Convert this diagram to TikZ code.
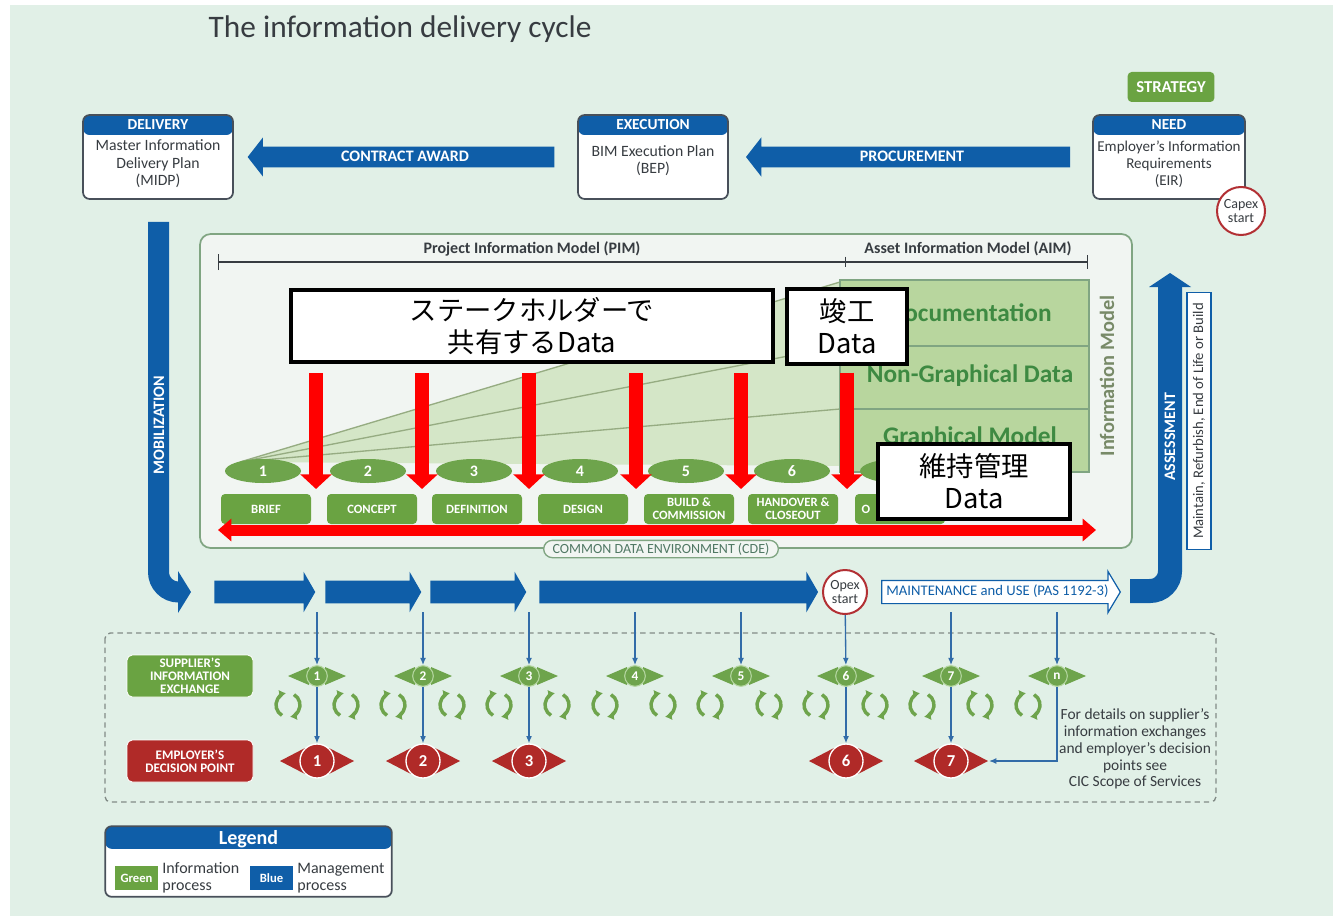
\documentclass[tikz,border=0pt]{standalone}
\usepackage{fontspec}
\setmainfont{Carlito}
\newfontfamily\jpfont{Noto Sans CJK JP}
\usepackage{tikz}
\usetikzlibrary{shapes.misc, shapes.geometric, shapes.arrows, positioning}
\usetikzlibrary{arrows.meta}
\tikzset{>={Latex[width=2mm,length=2mm]}}

\definecolor{bgmint}{RGB}{225,240,231}
\definecolor{bimblue}{RGB}{15,94,168}
\definecolor{bimgreen}{RGB}{106,163,66}
\definecolor{leafgreen}{RGB}{110,164,76}
\definecolor{aimgreen}{RGB}{184,214,158}
\definecolor{wedgegreen}{RGB}{212,230,199}
\definecolor{wedgeline}{RGB}{150,172,130}
\definecolor{modelgreen}{RGB}{62,138,66}
\definecolor{decred}{RGB}{176,42,40}
\definecolor{panelfill}{RGB}{241,245,242}
\definecolor{panelline}{RGB}{128,165,130}
\definecolor{boxline}{RGB}{72,80,90}
\definecolor{opexred}{RGB}{178,48,52}
\definecolor{textgray}{RGB}{55,60,65}
\definecolor{thinblue}{RGB}{50,108,168}
\definecolor{dashgray}{RGB}{130,140,135}
\definecolor{cdetext}{RGB}{80,120,100}
\definecolor{ringgreen}{RGB}{180,214,160}

\begin{document}
\begin{tikzpicture}[x=0.75pt, y=-0.75pt,
    topbox/.style={rounded corners=5pt, draw=boxline, line width=1.3pt, fill=white, minimum width=112.5pt, minimum height=63pt, path picture={\fill[bimblue] (path picture bounding box.north west) rectangle ([yshift=-#1]path picture bounding box.north east);}},
    topbox/.default=15pt,
    headtext/.style={font=\fontsize{11.5}{13}\selectfont\bfseries, text=white, inner sep=1.5pt},
    bodytext/.style={font=\fontsize{11.8}{13.2}\selectfont, text=textgray, align=center, inner sep=1pt},
    bigarrow/.style={single arrow, fill=bimblue, shape border rotate=180, text height=7pt, text depth=0pt, inner xsep=2pt, inner ysep=4pt, single arrow head extend=7pt, single arrow tip angle=104, font=\fontsize{12}{13}\selectfont\bfseries, text=white},
    steparrow/.style={single arrow, fill=bimblue, text height=0pt, text depth=0pt, inner xsep=0pt, inner ysep=8.25pt, single arrow head extend=6.75pt, single arrow tip angle=120},
    sidetext/.style={font=\fontsize{12}{13}\selectfont\bfseries, text=white, rotate=90},
    stagebox/.style={fill=bimgreen, rounded corners=3pt, minimum width=67.5pt, minimum height=22.5pt, inner sep=1pt, align=center, font=\fontsize{9.5}{9.6}\selectfont\bfseries, text=white},
    leaf/.style={ellipse, fill=leafgreen, minimum width=57pt, minimum height=18pt, inner sep=0pt, font=\fontsize{12}{13}\selectfont\bfseries, text=white},
    modeltext/.style={font=\fontsize{19}{21}\selectfont\bfseries, text=modelgreen},
    databox/.style={draw=black, line width=3pt, fill=white, align=center, inner sep=2pt, font=\fontsize{20.5}{24}\selectfont\jpfont},
    redarrow/.style={draw=red, line width=10.5pt, -{Triangle[width=23pt,length=11pt]}},
    cdearrow/.style={draw=red, line width=8.25pt, {Triangle[width=16.5pt,length=10pt]}-{Triangle[width=16.5pt,length=10pt]}},
    infonode/.style={circle, fill=leafgreen, draw=ringgreen, line width=0.8pt, minimum size=15.5pt, inner sep=0pt, font=\fontsize{10}{11}\selectfont\bfseries, text=white},
    decnode/.style={circle, fill=decred, draw=white, line width=1pt, minimum size=25.5pt, inner sep=0pt, font=\fontsize{12.5}{14}\selectfont\bfseries, text=white},
    thinarrow/.style={draw=thinblue, line width=1pt, -{Latex[width=4.5pt,length=5.5pt]}},
    cyclearrow/.style={draw=leafgreen, line width=2.6pt, -{Latex[width=7pt,length=5pt]}},
    tagbox/.style={rounded corners=4pt, draw=white, line width=0.6pt, minimum width=94.5pt, minimum height=31.5pt, inner sep=1pt, align=center, font=\fontsize{9.8}{9.6}\selectfont\bfseries, text=white},
    keybox/.style={minimum width=32pt, minimum height=18pt, inner sep=1pt, font=\fontsize{9.5}{10}\selectfont\bfseries, text=white},
    keytext/.style={align=left, inner sep=1pt, font=\fontsize{12}{12.8}\selectfont, text=textgray},
    circletext/.style={circle, draw=opexred, line width=1.5pt, fill=white, inner sep=0pt, align=center, font=\fontsize{10.5}{11}\selectfont, text=textgray}]

    %Background
    \fill[white] (0,0) rectangle (1333,916);
    \fill[bgmint] (10,5) rectangle (1333,916);
    \useasboundingbox (0,0) rectangle (1333,916);
    \node[anchor=west, font=\fontsize{23.5}{27}\selectfont, text=textgray] (title) at (204,29) {The information delivery cycle};

    %Top row
    \node[topbox] (delivery) at (158,157) {};
    \node[headtext, below=2pt of delivery.north] (deliveryhead) {DELIVERY};
    \node[bodytext, below=5pt of deliveryhead] (deliverybody) {Master Information\\Delivery Plan\\(MIDP)};
    \node[topbox] (execution) at (653,157) {};
    \node[headtext, below=2pt of execution.north] (executionhead) {EXECUTION};
    \node[bodytext, below=9pt of executionhead] (executionbody) {BIM Execution Plan\\(BEP)};
    \node[topbox, minimum width=114pt] (need) at (1169,157) {};
    \node[headtext, below=2pt of need.north] (needhead) {NEED};
    \node[bodytext, below=6pt of needhead, font=\fontsize{11.3}{12.8}\selectfont] (needbody) {Employer's Information\\Requirements\\(EIR)};
    \node[fill=bimgreen, rounded corners=3pt, minimum width=65pt, minimum height=22.5pt, font=\fontsize{12.5}{13}\selectfont\bfseries, text=white] (strategy) at (1171,87) {STRATEGY};
    \node[circletext, minimum size=36pt] (capex) at (1241,211) {Capex\\start};
    \node[bigarrow, minimum height=230pt] (contract) at (405,157) {CONTRACT AWARD};
    \node[bigarrow, minimum height=243pt] (procurement) at (912,157) {PROCUREMENT};

    %Side arrows
    \draw[bimblue, line width=15.75pt] (158.5,222) -- (158.5,572) arc[start angle=180, end angle=270, radius=15pt] -- (180,592);
    \fill[bimblue] (178,571) -- (191,592) -- (178,613) -- cycle;
    \node[sidetext] (mobilization) at (159,425) {MOBILIZATION};
    \draw[bimblue, line width=18pt] (1130,591) -- (1150,591) arc[start angle=-90, end angle=0, radius=15pt] -- (1170,286);
    \fill[bimblue] (1149,287) -- (1170,273) -- (1191,287) -- cycle;
    \node[sidetext] (assessment) at (1170,437) {ASSESSMENT};
    \node[draw=bimblue, line width=0.8pt, fill=white, rotate=90, minimum width=193pt, minimum height=18pt, inner sep=1pt, font=\fontsize{11}{12}\selectfont, text=textgray] (lifecycle) at (1199,421) {Maintain, Refurbish, End of Life or Build};

    %Information model panel
    \draw[panelline, fill=panelfill, line width=1.3pt, rounded corners=8pt] (200,234) rectangle (1132,548);
    \coordinate (pimleft) at (218,262);
    \coordinate (pimmid) at (846,262);
    \coordinate (pimright) at (1088,262);
    \draw[textgray, line width=0.9pt, {Bar[width=12pt]}-{Bar[width=8pt]}] (pimleft) -- (pimmid);
    \draw[textgray, line width=0.9pt, -{Bar[width=10pt]}] (pimmid) -- (pimright);
    \node[font=\fontsize{12}{13}\selectfont\bfseries, text=textgray] (pim) at (532,249) {Project Information Model (PIM)};
    \node[font=\fontsize{12}{13}\selectfont\bfseries, text=textgray] (aimlabel) at (968,249) {Asset Information Model (AIM)};
    \fill[wedgegreen] (240,462) -- (840,282) -- (840,466) -- cycle;
    \draw[wedgeline, line width=1pt] (240,462) -- (840,282);
    \draw[wedgeline, line width=1pt] (240,462) -- (840,346);
    \draw[wedgeline, line width=1pt] (240,462) -- (840,409);
    \node[fill=aimgreen, draw=panelline, line width=0.8pt, minimum width=186.75pt, minimum height=144pt] (aim) at (964.5,376) {};
    \draw[panelline, line width=0.8pt] (840,346) -- (1089,346);
    \draw[panelline, line width=0.8pt] (840,409) -- (1089,409);
    \node[modeltext] (documentation) at (970,313) {Documentation};
    \node[modeltext] (nongraphical) at (970,376) {Non-Graphical Data};
    \node[modeltext] (graphical) at (970,438) {Graphical Model};
    \node[font=\fontsize{15.3}{17}\selectfont\bfseries, text=wedgeline!80!black, rotate=90] (infomodel) at (1107,376) {Information Model};

    %Stages
    \foreach \n/\x in {1/263,2/368,3/474,4/580,5/686,6/792}
        \node[leaf] (leaf\n) at (\x,471) {\n};
    \node[leaf] (leaf7) at (898,471) {};
    \node[stagebox] (brief) at (266,509) {BRIEF};
    \node[stagebox] (concept) at (372,509) {CONCEPT};
    \node[stagebox] (definition) at (477,509) {DEFINITION};
    \node[stagebox] (design) at (583,509) {DESIGN};
    \node[stagebox] (build) at (689,509) {BUILD \&\\COMMISSION};
    \node[stagebox] (handover) at (793,509) {HANDOVER \&\\CLOSEOUT};
    \node[stagebox, align=left, text width=57.5pt, inner xsep=5pt] (operation) at (900,509) {O};
    \node[rounded rectangle, draw=panelline, fill=panelfill, line width=1pt, minimum width=178pt, minimum height=13pt, inner sep=1pt, font=\fontsize{10.5}{11}\selectfont, text=cdetext] (cde) at (661,549) {COMMON DATA ENVIRONMENT (CDE)};

    %Overlay boxes
    \node[databox, minimum width=361.5pt, minimum height=54pt] (stake) at (532,326) {ステークホルダーで\\共有するData};
    \node[databox, minimum width=90pt, minimum height=56pt] (kanko) at (847,326.5) {竣工\\Data};
    \node[databox, minimum width=144pt, minimum height=56pt] (ijikanri) at (974,481.5) {維持管理\\Data};
    \foreach \n/\x in {1/316,2/422,3/529,4/636,5/741}{
        \coordinate (sharetop\n) at (\x,373);
        \coordinate (sharetip\n) at (\x,489);
        \draw[redarrow] (sharetop\n) -- (sharetip\n);
    }
    \coordinate (asbuilttip) at (847,489);
    \draw[redarrow] ([yshift=-5pt]kanko.south) -- (asbuilttip);
    \coordinate (cdeleft) at (218,530);
    \coordinate (cderight) at (1096,530);
    \draw[cdearrow] (cdeleft) -- (cderight);

    %Delivery row
    \node[steparrow, minimum height=75.75pt] (run1) at (261.5,592) {};
    \node[steparrow, minimum height=72pt] (run2) at (370,592) {};
    \node[steparrow, minimum height=72pt] (run3) at (475,592) {};
    \node[steparrow, minimum height=209pt] (run4) at (675.5,592) {};
    \node[circletext, minimum size=33pt] (opex) at (845,592) {Opex\\start};
    \node[steparrow, fill=white, draw=bimblue, line width=0.9pt, minimum height=179pt, text height=7pt, text depth=2pt, inner xsep=3pt, inner ysep=3.75pt, single arrow tip angle=118, font=\fontsize{11}{12}\selectfont, text=bimblue] (maintenance) at (997.5,592) {MAINTENANCE and USE (PAS 1192-3)};

    %Exchanges and decisions
    \draw[dashgray, line width=1pt, dash pattern=on 4pt off 3pt, rounded corners=4pt] (105,633) rectangle (1216,802);
    \node[tagbox, fill=bimgreen] (supplier) at (190,676) {SUPPLIER'S\\INFORMATION\\EXCHANGE};
    \node[tagbox, fill=decred] (employer) at (190,761) {EMPLOYER'S\\DECISION POINT};
    \foreach \n/\x in {1/317,2/423,3/529,4/635,5/741,6/846,7/951,n/1057}{
        \fill[leafgreen] ({\x-8},667) -- ({\x-8},685) -- ({\x-29},676) -- cycle;
        \fill[leafgreen] ({\x+8},667) -- ({\x+8},685) -- ({\x+29},676) -- cycle;
        \node[infonode] (info\n) at (\x,676) {\n};
    }
    \foreach \n/\x in {1/317,2/423,3/529,4/635,5/741,7/951,n/1057}{
        \coordinate (feed\n) at (\x,612);
        \draw[thinarrow] (feed\n) -- (info\n);
    }
    \draw[thinarrow] (opex) -- (info6);
    \foreach \n/\x in {1/317,2/423,3/529,6/846,7/951}{
        \fill[decred] ({\x-12},748) -- ({\x-12},774) -- ({\x-37},761) -- cycle;
        \fill[decred] ({\x+12},748) -- ({\x+12},774) -- ({\x+37},761) -- cycle;
        \node[decnode] (decision\n) at (\x,761) {\n};
        \draw[thinarrow] (info\n) -- (decision\n);
    }
    \coordinate (decision7tip) at (989,761);
    \draw[thinarrow] (infon) |- (decision7tip);
    \foreach \x in {288,346,393,452,499,557,605,663,710,769,816,875,922,980,1028}{
        \draw[cyclearrow] ([shift={(240:9pt)}]\x,705) arc[start angle=240, end angle=100, radius=9pt];
        \draw[cyclearrow] ([shift={(60:9pt)}]\x,705) arc[start angle=60, end angle=-80, radius=9pt];
    }
    \node[align=center, font=\fontsize{11.6}{12.6}\selectfont, text=textgray] (note) at (1135,749) {For details on supplier's\\information exchanges\\and employer's decision\\points see\\CIC Scope of Services};

    %Legend
    \node[topbox=17pt, minimum width=215pt, minimum height=53pt] (legend) at (248.5,861.5) {};
    \node[font=\fontsize{15}{16}\selectfont\bfseries, text=white, below=0pt of legend.north] (legendhead) {Legend};
    \node[keybox, fill=bimgreen] (greenkey) at (136.5,878) {Green};
    \node[keytext, right=2pt of greenkey] (greentext) {Information\\process};
    \node[keybox, fill=bimblue] (bluekey) at (271.5,878) {Blue};
    \node[keytext, right=2pt of bluekey] (bluetext) {Management\\process};

\end{tikzpicture}
\end{document}
